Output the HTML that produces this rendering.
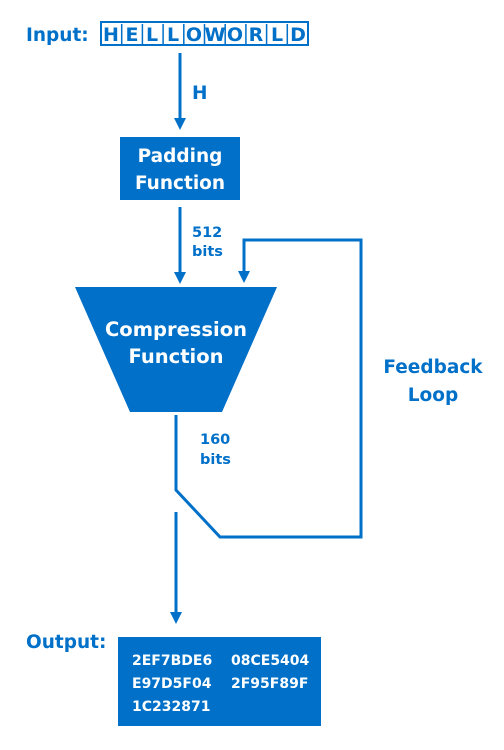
<!DOCTYPE html>
<html><head><style>body{margin:0;background:#fff}svg{display:block}text{font-family:"DejaVu Sans","Liberation Sans",sans-serif;font-weight:bold;fill:#0070c9}</style></head><body>
<svg width="504" height="750" viewBox="0 0 504 750">
<defs><marker id="a" markerWidth="12" markerHeight="12" refX="6" refY="6" orient="auto" markerUnits="userSpaceOnUse"><path d="M0,0 L12,6 L0,12 z" fill="#0070c9"/></marker></defs>
<text x="26" y="41" font-size="18.5">Input:</text>
<rect x="101" y="22" width="207" height="23" fill="none" stroke="#0070c9" stroke-width="2"/>
<g font-size="19" text-anchor="middle">
<text x="111" y="41">H</text><text x="132" y="41">E</text><text x="152" y="41">L</text><text x="173" y="41">L</text><text x="194" y="41">O</text><text x="215" y="41">W</text><text x="235" y="41">O</text><text x="256" y="41">R</text><text x="277" y="41">L</text><text x="298" y="41">D</text>
</g>
<g stroke="#0070c9" stroke-width="1.5">
<line x1="121.7" y1="24" x2="121.7" y2="44"/><line x1="142.4" y1="24" x2="142.4" y2="44"/><line x1="163.1" y1="24" x2="163.1" y2="44"/><line x1="183.8" y1="24" x2="183.8" y2="44"/><line x1="204.5" y1="24" x2="204.5" y2="44"/><line x1="225.2" y1="24" x2="225.2" y2="44"/><line x1="245.9" y1="24" x2="245.9" y2="44"/><line x1="266.6" y1="24" x2="266.6" y2="44"/><line x1="287.3" y1="24" x2="287.3" y2="44"/>
</g>
<g stroke="#0070c9" stroke-width="3" fill="none">
<line x1="180" y1="53" x2="180" y2="124" marker-end="url(#a)"/>
<line x1="180" y1="207" x2="180" y2="278" marker-end="url(#a)"/>
<polyline points="176,415 176,490 220,537 361,537 361,240 244,240 244,277" marker-end="url(#a)"/>
<line x1="176" y1="512" x2="176" y2="618" marker-end="url(#a)"/>
</g>
<text x="192" y="99" font-size="18.5">H</text>
<rect x="120" y="137" width="120" height="63" fill="#0070c9"/>
<text x="180" y="162" font-size="18.5" text-anchor="middle" style="fill:#fff">Padding</text>
<text x="180" y="189" font-size="18.5" text-anchor="middle" style="fill:#fff">Function</text>
<text x="192" y="237" font-size="14.5">512</text><text x="192" y="256" font-size="14.5">bits</text>
<polygon points="75,287 277,287 222,412 130,412" fill="#0070c9"/>
<text x="176" y="336" font-size="19.5" text-anchor="middle" style="fill:#fff">Compression</text>
<text x="176" y="363" font-size="19.5" text-anchor="middle" style="fill:#fff">Function</text>
<text x="200" y="444" font-size="14.5">160</text><text x="200" y="464" font-size="14.5">bits</text>
<text x="433" y="373" font-size="18.5" text-anchor="middle">Feedback</text>
<text x="433" y="401" font-size="18.5" text-anchor="middle">Loop</text>
<text x="26" y="648" font-size="18.5">Output:</text>
<rect x="118" y="637" width="203" height="89" fill="#0070c9"/>
<g font-size="14">
<text x="132" y="665" style="fill:#fff">2EF7BDE6</text><text x="231" y="665" style="fill:#fff">08CE5404</text>
<text x="132" y="688" style="fill:#fff">E97D5F04</text><text x="231" y="688" style="fill:#fff">2F95F89F</text>
<text x="132" y="711" style="fill:#fff">1C232871</text>
</g>
</svg>
</body></html>
